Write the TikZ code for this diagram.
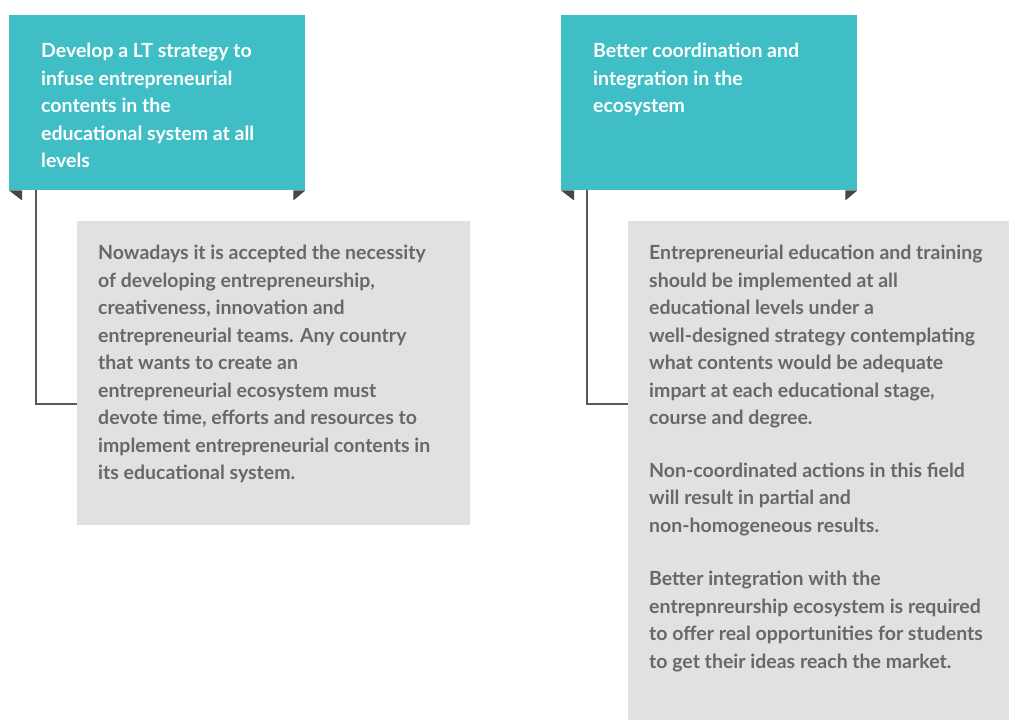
\documentclass[tikz,border=0pt]{standalone}
\usepackage{fontspec}
\setmainfont{Lato}
\usetikzlibrary{positioning}
\definecolor{headteal}{RGB}{64,190,197}
\definecolor{notegray}{RGB}{225,225,225}
\definecolor{notetext}{RGB}{104,104,104}
\definecolor{foldgray}{RGB}{70,70,70}
\definecolor{linkgray}{RGB}{90,90,90}
\tikzset{
  headbox/.style={fill=headteal, inner sep=0pt, anchor=north west, minimum width=296pt, minimum height=175pt},
  notebox/.style={fill=notegray, inner sep=0pt, anchor=north west},
  headtext/.style={anchor=north west, inner sep=0pt, align=left, text=white, font=\fontsize{19.5}{27.5}\selectfont\bfseries},
  notetext/.style={anchor=north west, inner sep=0pt, align=left, text=notetext, font=\fontsize{19.5}{27.5}\selectfont\bfseries},
  fold/.style={fill=foldgray},
  link/.style={draw=linkgray, line width=1.2pt}
}
\begin{document}
\begin{tikzpicture}[x=1pt, y=-1pt]
\useasboundingbox (0,0) rectangle (1009,720);
\node[headbox] (lt) at (9,15) {};
\node[headtext] (ltt) at ([shift={(32,28)}]lt.north west) {Develop a LT strategy to\\infuse entrepreneurial\\contents in the\\educational system at all\\levels};
\fill[fold] (lt.south west) -- ++(13,0) -- ++(0,10) -- cycle;
\fill[fold] (lt.south east) -- ++(-12,0) -- ++(0,10) -- cycle;
\node[notebox, minimum width=393pt, minimum height=304pt] (need) at (77,221) {};
\node[notetext] (needt) at ([shift={(21,24)}]need.north west) {Nowadays it is accepted the necessity\\of developing entrepreneurship,\\creativeness, innovation and\\entrepreneurial teams. Any country\\that wants to create an\\entrepreneurial ecosystem must\\devote time, efforts and resources to\\implement entrepreneurial contents in\\its educational system.};
\draw[link] ([xshift=27pt]lt.south west) |- ([yshift=-183pt]need.north west);
\node[headbox] (eco) at (561,15) {};
\node[headtext] (ecot) at ([shift={(32,28)}]eco.north west) {Better coordination and\\integration in the\\ecosystem};
\fill[fold] (eco.south west) -- ++(13,0) -- ++(0,10) -- cycle;
\fill[fold] (eco.south east) -- ++(-12,0) -- ++(0,10) -- cycle;
\node[notebox, minimum width=381pt, minimum height=499pt] (plan) at (628,221) {};
\node[notetext] (plant) at ([shift={(21,24)}]plan.north west) {Entrepreneurial education and training\\should be implemented at all\\educational levels under a\\well-designed strategy contemplating\\what contents would be adequate\\impart at each educational stage,\\course and degree.\\[25pt]Non-coordinated actions in this field\\will result in partial and\\non-homogeneous results.\\[26pt]Better integration with the\\entrepnreurship ecosystem is required\\to offer real opportunities for students\\to get their ideas reach the market.};
\draw[link] ([xshift=26pt]eco.south west) |- ([yshift=-183pt]plan.north west);
\end{tikzpicture}
\end{document}
